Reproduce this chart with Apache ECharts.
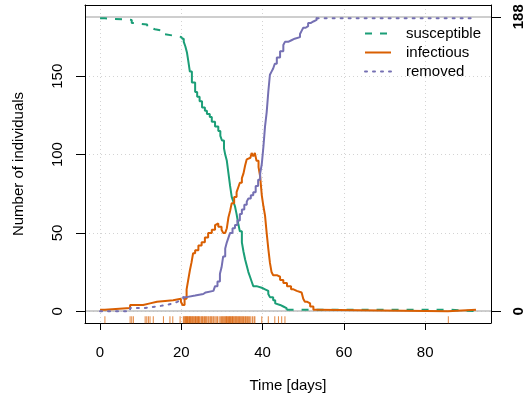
<!DOCTYPE html>
<html><head><meta charset="utf-8">
<script src="https://cdn.jsdelivr.net/npm/echarts@6/dist/echarts.min.js"></script>
<style>html,body{margin:0;padding:0;background:#fff}#c{width:523px;height:404px}</style>
</head><body><div id="c"></div>
<script>
const xTicks = [0, 20, 40, 60, 80];
const yTicks = [0, 50, 100, 150];
const yRightTicks = [0, 188];
const seriesNames = ['susceptible', 'infectious', 'removed'];

const susceptible = [[0,187],[1.2,186],[7.8,184],[8.5,183],[11.6,181],[12.5,180],[13.5,179],[15.6,177],[16,176],[18,175],[20.1,174],[20.6,172],[21,169],[21.4,165],[21.7,160],[22.1,153],[22.6,146],[23.4,140],[23.9,137],[24.5,134],[25.1,130],[25.8,128],[26.3,126],[27,124],[27.5,121],[28.3,118],[29.1,115],[29.6,112],[30,109],[30.5,104],[30.8,100],[31.2,96],[31.4,92],[31.6,88],[32,80],[32.4,73],[32.8,70],[33.2,67],[33.6,62],[34,56],[34.4,51],[34.9,44],[35.3,38],[35.7,33],[36.1,29],[36.5,25],[36.9,22],[37.3,19],[37.7,16],[38.5,15],[39.8,14],[40.6,13],[41.4,11],[41.8,9],[42.6,7],[43.1,5],[43.5,4],[44.3,3],[45.1,2],[45.9,1],[85.6,0],[92.5,0]];

const infectious = [[0,1],[1.2,2],[7.4,4],[10.6,5],[12.3,6],[14,7],[18,8],[19.9,6],[20.3,4],[20.8,8],[21.3,14],[21.7,20],[22.1,26],[22.5,31],[22.9,37],[23.4,39],[24.2,42],[25,44],[25.8,47],[26.6,50],[27.5,52],[28.3,55],[28.7,56],[29.1,54],[29.9,52],[30.3,50],[30.8,51],[31.2,53],[31.6,60],[32,64],[32.4,69],[33,73],[33.6,76],[34,79],[34.4,82],[34.9,85],[35.3,88],[35.7,93],[36.1,97],[36.5,98],[37,99],[37.3,101],[37.7,99],[38.1,101],[38.5,96],[39,92],[39.4,86],[39.8,74],[40.2,67],[40.6,61],[41,50],[41.4,40],[41.8,31],[42.2,25],[42.6,23],[43.5,22],[44.3,20],[45.1,18],[46,16],[47,14],[47.6,13],[48.4,12],[49.6,11],[50,8],[50.4,6],[51,5],[51.7,3],[52.5,1],[53.3,0],[85.6,1],[92.5,1]];

const removed = [[0,0],[7.4,2],[10.6,3],[13.9,4],[16.4,5],[18,6],[19,7],[19.7,8],[20.5,9],[21.3,10],[23.4,11],[25.4,12],[26,13],[27.9,14],[28.3,16],[28.9,19],[29.5,24],[29.9,28],[30.3,35],[30.8,40],[31.2,44],[31.6,47],[32,50],[32.6,53],[33.2,55],[33.8,58],[34.4,62],[34.9,65],[35.5,68],[36.1,70],[36.5,72],[37.1,74],[37.7,76],[38.3,80],[38.9,84],[39.4,88],[39.8,94],[40.2,105],[40.6,118],[41,127],[41.4,140],[41.8,151],[42.2,153],[42.6,155],[43,158],[43.5,162],[44.3,166],[45.1,170],[45.5,172],[46.3,173],[47.1,174],[47.9,175],[49.2,177],[49.6,179],[50,181],[50.6,182],[51.2,184],[51.8,185],[52.5,186],[53.3,187],[92.5,187]];

const infectionTimes = [1.2,7.4,7.8,8.2,11.1,11.5,11.9,12.3,13.1,15.6,17.2,17.9,19.7,
20.5,20.7,20.9,21.0,21.2,21.3,21.5,21.6,21.8,22.0,22.1,22.3,22.4,22.6,22.8,22.9,23.1,23.3,23.5,23.6,23.8,24.0,24.2,24.3,24.5,24.8,25.0,25.2,25.4,25.7,25.9,26.1,26.3,26.6,26.8,27.1,27.3,27.5,27.8,28.0,28.3,28.6,28.9,29.3,29.6,29.9,30.1,30.3,30.5,30.7,30.9,31.1,31.2,31.4,31.6,31.8,31.9,32.1,32.3,32.5,32.6,32.8,33.0,33.2,33.4,33.5,33.7,33.9,34.1,34.3,34.5,34.7,34.9,35.1,35.3,35.6,35.8,36.0,36.3,36.5,36.8,37.1,37.5,37.9,38.1,
39.8,41.4,43.0,43.9,44.7,45.5,85.7];

// x positions where the drawn pattern switches (steep, finely stepped parts render solid)
const patternBreaks = [[20.1, 45.9], [], [20.5, 53.3]];

const FONT = '"Liberation Sans", Arial, Helvetica, sans-serif';
const X_MIN = -3.7, X_MAX = 96.2, Y_MIN = -7.52, Y_MAX = 195.52;
const RUG_Y = -5.4;
const colors = ['#1B9E77', '#D95F02', '#7570B3'];
const dashes = [[7, 8], 'solid', [2, 6]];
const caps = ['butt', 'butt', 'round'];
const curves = [susceptible, infectious, removed];

function splitAt(data, breaks) {
  const pts = [data[0][0], ...breaks, Infinity];
  const parts = [];
  for (let k = 0; k < pts.length - 1; k++) {
    const a = pts[k], b = pts[k + 1];
    parts.push(data.filter(p => p[0] >= a && p[0] <= b));
  }
  return parts;
}

const chart = echarts.init(document.getElementById('c'), null, {renderer: 'canvas'});
const lineSeries = [];
curves.forEach((d, i) => {
  splitAt(d, patternBreaks[i]).forEach((part, k) => {
    const patterned = (k % 2 === 0);
    lineSeries.push({
      name: seriesNames[i], type: 'line', step: 'end', data: part,
      symbol: 'none', showSymbol: false,
      lineStyle: {color: colors[i], width: 2, type: patterned ? dashes[i] : 'solid', cap: caps[i]},
      itemStyle: {color: colors[i]}, silent: true, z: 3
    });
  });
});
const rug = {
  name: 'rug', type: 'scatter', symbol: 'rect', symbolSize: [1, 7],
  data: infectionTimes.map(t => [t, RUG_Y]),
  itemStyle: {color: '#D95F02', opacity: 0.75}, silent: true, z: 2
};

chart.setOption({
  animation: false,
  grid: {left: 85, right: 32, top: 5, bottom: 81, containLabel: false, outerBoundsMode: 'none'},
  legend: {
    data: seriesNames, orient: 'vertical', left: 359, top: 21,
    itemWidth: 26, itemHeight: 14, itemGap: 4,
    itemStyle: {opacity: 0},
    textStyle: {fontFamily: FONT, fontSize: 15, color: '#000', lineHeight: 15, padding: [0,0,0,10]},
    selectedMode: false
  },
  xAxis: [{
    type: 'value', position: 'bottom', min: X_MIN, max: X_MAX,
    name: 'Time [days]', nameLocation: 'middle', nameGap: 55,
    nameTextStyle: {fontFamily: FONT, fontSize: 15, color: '#000'},
    axisLine: {show: true, onZero: false, lineStyle: {color: '#000', width: 1}},
    axisTick: {show: true, customValues: xTicks, length: 7, lineStyle: {color: '#000'}},
    axisLabel: {customValues: xTicks, fontFamily: FONT, fontSize: 15, color: '#000', margin: 22},
    splitLine: {show: true, lineStyle: {color: '#D3D3D3', type: [1, 3], width: 1}}
  }, {
    type: 'value', position: 'top', min: X_MIN, max: X_MAX,
    axisLine: {show: true, onZero: false, lineStyle: {color: '#000', width: 1}},
    axisTick: {show: false}, axisLabel: {show: false}, splitLine: {show: false}
  }],
  yAxis: [{
    type: 'value', position: 'left', min: Y_MIN, max: Y_MAX,
    name: 'Number of individuals', nameLocation: 'middle', nameGap: 59, nameRotate: 90,
    nameTextStyle: {fontFamily: FONT, fontSize: 15, color: '#000'},
    axisLine: {show: true, onZero: false, lineStyle: {color: '#000', width: 1}},
    axisTick: {show: true, customValues: yTicks, length: 9, lineStyle: {color: '#000'}},
    axisLabel: {customValues: yTicks, rotate: 90, fontFamily: FONT, fontSize: 15, color: '#000', margin: 20},
    splitLine: {show: true, lineStyle: {color: '#D3D3D3', type: [1, 3], width: 1}}
  }, {
    type: 'value', position: 'right', min: Y_MIN, max: Y_MAX,
    axisLine: {show: true, onZero: false, lineStyle: {color: '#000', width: 1}},
    axisTick: {show: true, customValues: yRightTicks, length: 10, lineStyle: {color: '#000'}},
    axisLabel: {customValues: yRightTicks, rotate: 90, fontFamily: FONT, fontSize: 15, fontWeight: 'bold', color: '#000', margin: 20},
    splitLine: {show: true, lineStyle: {color: '#BEBEBE', type: 'solid', width: 1.5}}
  }],
  series: [...lineSeries, rug]
});
</script>
</body></html>
